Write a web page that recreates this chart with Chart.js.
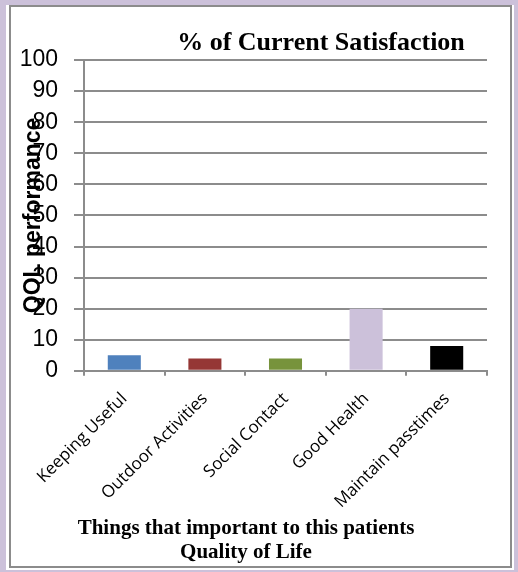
<!DOCTYPE html>
<html>
<head>
<meta charset="utf-8">
<script src="https://cdn.jsdelivr.net/npm/chart.js@4"></script>
<style>
  html, body { margin: 0; padding: 0; width: 518px; height: 572px; overflow: hidden; background: #CCC1DA; }
  #panel { position: absolute; left: 6px; top: 5px; width: 508px; height: 565px; background: #ffffff; }
  #frame { position: absolute; left: 9px; top: 5px; width: 499px; height: 559px; border: 2px solid #8c8c8c; }
  #c { position: absolute; left: 0; top: 0; }
</style>
</head>
<body>
<div id="panel"></div>
<div id="frame"></div>
<canvas id="c" width="518" height="572"></canvas>
<script>
const categories = ['Keeping Useful', 'Outdoor Activities', 'Social Contact', 'Good Health', 'Maintain passtimes'];
const satisfaction = [5, 4, 4, 20, 8];
const barColors = ['#4F81BD', '#953735', '#77933C', '#CCC1DA', '#000000'];
const yMin = 0, yMax = 100, yStep = 10;
const chartTitle = '% of Current Satisfaction';
const yTitle = 'QOL performance';
const xTitleLines = ['Things that important to this patients', 'Quality of Life'];

const gridGrey = '#8c8c8c';

const placeTitles = {
  id: 'placeTitles',
  afterLayout(chart) {
    if (chart.titleBlock) { chart.titleBlock.left = 175; chart.titleBlock.right = 467; }
    for (const b of chart.boxes) {
      if (b.options && b.options.text === xTitleLines) { b.left = 0; b.right = 492; }
    }
  }
};

new Chart(document.getElementById('c'), {
  type: 'bar',
  data: {
    labels: categories,
    datasets: [{
      data: satisfaction,
      backgroundColor: barColors,
      borderWidth: 0,
      barPercentage: 0.41,
      categoryPercentage: 1.0
    }]
  },
  options: {
    responsive: false,
    devicePixelRatio: 1,
    animation: false,
    layout: { padding: { left: 0, right: 31, top: 0, bottom: 0 } },
    plugins: {
      legend: { display: false },
      tooltip: { enabled: false },
      title: {
        display: true,
        text: chartTitle,
        color: '#000',
        font: { family: '"Liberation Serif", "Times New Roman", serif', size: 26, weight: 'bold', lineHeight: 1.2 },
        padding: { top: 27.6, bottom: 1.2 }
      },
      subtitle: {
        display: true,
        position: 'bottom',
        text: xTitleLines,
        color: '#000',
        font: { family: '"Liberation Serif", "Times New Roman", serif', size: 21, weight: 'bold', lineHeight: 1.17 },
        padding: { top: 0, bottom: 7 }
      }
    },
    scales: {
      x: {
        afterFit(s) { s.height = 145; },
        grid: { drawOnChartArea: false, drawTicks: true, tickLength: 5, color: gridGrey, lineWidth: 2, offset: true },
        border: { display: true, color: gridGrey, width: 2 },
        ticks: {
          autoSkip: false,
          minRotation: 45,
          maxRotation: 45,
          padding: 13,
          color: '#000',
          font: { family: '"Open Sans", sans-serif', size: 17 }
        }
      },
      y: {
        min: yMin,
        max: yMax,
        afterFit(s) { s.width = 84; },
        grid: { color: gridGrey, lineWidth: 2, tickLength: 10 },
        border: { display: true, color: gridGrey, width: 2 },
        ticks: {
          stepSize: yStep,
          padding: 16,
          color: '#000',
          font: { family: '"Liberation Sans", Arial, sans-serif', size: 23 }
        },
        title: {
          display: true,
          text: yTitle,
          color: '#000',
          font: { family: '"Liberation Sans", Arial, sans-serif', size: 23, weight: 'bold', lineHeight: 1.2 },
          padding: { top: 20, bottom: 0 }
        }
      }
    }
  },
  plugins: [placeTitles]
});
</script>
</body>
</html>
